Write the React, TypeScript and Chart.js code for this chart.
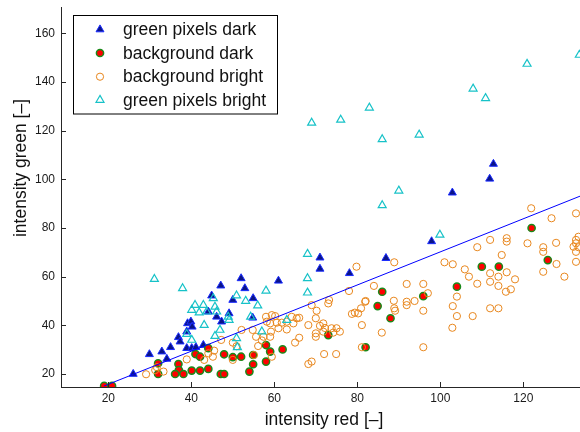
import { useEffect, useRef } from "react";
import { Chart, registerables } from "chart.js";

Chart.register(...registerables);

const seriesNames = ["green pixels dark", "background dark", "background bright", "green pixels bright"];
const xTickValues = [20, 40, 60, 80, 100, 120];
const yTickValues = [20, 40, 60, 80, 100, 120, 140, 160];

// green pixels, dark exposure
const greenDarkX = [26.0, 29.9, 32.9, 34.1, 35.0, 36.9, 37.3, 38.9, 38.9, 39.1, 39.9, 40.2, 40.1, 41.1, 42.9, 44.1, 44.9, 46.1, 47.3, 47.1, 49.1, 50.0, 52.0, 52.9, 54.9, 54.8, 61.0, 71.0, 71.0, 78.1, 86.9, 97.9, 102.9, 111.9, 112.8];
const greenDarkY = [20.0, 28.1, 29.2, 26.2, 31.0, 35.1, 33.3, 37.4, 30.6, 40.8, 41.5, 39.4, 30.6, 31.0, 31.9, 45.6, 52.2, 43.5, 41.5, 56.3, 44.9, 50.4, 59.3, 55.2, 51.1, 43.1, 58.3, 67.8, 63.2, 61.4, 67.6, 74.5, 94.5, 100.2, 106.3];

// background, dark exposure
const bgDarkX = [19.0, 20.9, 32.0, 32.0, 36.9, 37.0, 36.1, 38.1, 40.1, 42.1, 44.1, 47.1, 47.9, 41.0, 42.1, 44.1, 47.9, 50.0, 52.0, 54.0, 54.9, 54.9, 58.0, 59.0, 58.0, 62.0, 73.0, 82.0, 84.9, 88.0, 86.0, 95.9, 104.0, 110.0, 114.1, 125.9, 122.0];
const bgDarkY = [15.1, 15.1, 24.4, 20.0, 24.1, 21.6, 20.0, 20.0, 21.4, 21.4, 22.1, 20.0, 20.0, 28.2, 27.1, 30.6, 28.1, 26.9, 27.1, 21.0, 24.0, 27.8, 31.9, 29.2, 25.1, 30.1, 36.0, 31.0, 47.9, 42.9, 53.8, 52.0, 55.9, 64.1, 64.1, 66.8, 80.0];

// background, bright exposure
const bgBrightX = [
  29.1, 31.3, 33.3, 31.7, 38.9, 43.1, 45.2, 44.1, 45.5, 47.2, 50.0, 50.0, 50.9, 52.1,
  54.8, 55.6, 57.4, 59.0, 57.0, 56.1, 55.1, 59.4, 58.0, 59.4, 60.2, 58.2, 59.0, 60.6, 61.8, 63.0, 64.2, 66.0, 64.6, 63.0, 59.2, 61.0, 65.0, 66.0, 68.2, 69.0, 70.2, 70.0, 71.0, 70.0, 70.0, 69.0, 68.2, 65.4,
  71.8, 72.2, 73.0, 73.2, 73.8, 75.0, 75.8, 74.2, 71.8, 72.0, 74.9, 78.7, 79.4, 80.2, 81.1, 81.9, 81.1, 85.9, 88.8, 88.9, 89.1, 91.9, 91.9, 93.8, 79.8, 88.9, 78.0, 84.0, 82.0, 80.9, 91.9, 95.9, 97.0, 95.9, 95.9,
  101.0, 103.0, 104.0, 103.0, 104.0, 102.9, 107.8, 105.9, 106.9, 108.9, 108.9, 112.0, 112.0, 112.0, 114.0, 114.8, 116.0, 114.0, 115.8, 117.0, 118.0, 112.0, 116.0, 116.0, 121.0, 124.8, 124.8, 127.9, 128.0, 124.8, 129.9, 132.1, 132.7, 121.9, 126.8, 132.7, 133.3, 132.7, 133.3, 132.7, 132.7, 114.0,
];
const bgBrightY = [
  19.9, 21.6, 21.0, 22.8, 26.0, 25.8, 27.1, 28.5, 29.6, 34.0, 25.8, 32.9, 31.4, 38.1,
  38.1, 35.3, 35.3, 35.3, 33.8, 31.5, 27.8, 27.1, 43.5, 44.2, 43.8, 41.5, 40.8, 41.1, 41.1, 41.5, 43.5, 43.1, 40.8, 38.3, 37.4, 38.8, 32.9, 34.9, 40.1, 48.3, 46.0, 42.9, 39.8, 36.7, 35.3, 25.1, 24.1, 42.9,
  40.8, 38.9, 49.0, 50.4, 38.8, 38.8, 37.4, 37.0, 37.4, 28.2, 28.2, 44.7, 45.2, 44.9, 40.1, 49.7, 31.0, 37.0, 50.1, 47.0, 46.0, 49.7, 48.3, 50.0, 64.1, 65.9, 54.1, 56.2, 50.0, 47.0, 57.0, 57.0, 53.2, 46.0, 31.0,
  65.9, 65.1, 51.8, 47.9, 43.8, 39.0, 43.8, 63.0, 60.0, 57.1, 72.1, 61.4, 57.9, 47.0, 47.0, 68.9, 61.8, 56.2, 53.8, 54.8, 58.9, 75.1, 74.4, 75.8, 73.7, 72.1, 70.2, 73.9, 65.2, 62.0, 60.0, 72.3, 66.1, 88.1, 84.0, 86.0, 76.4, 73.7, 72.1, 70.2, 75.1, 60.0,
];

// green pixels, bright exposure
const greenBrightX = [31.1, 37.9, 38.9, 40.1, 40.1, 40.9, 41.9, 42.9, 43.1, 43.7, 45.3, 45.7, 45.7, 46.1, 46.9, 48.9, 49.1, 50.9, 50.9, 51.1, 53.1, 54.3, 56.0, 57.0, 58.0, 63.0, 68.0, 68.0, 68.0, 69.0, 76.0, 82.9, 86.0, 86.0, 90.0, 94.9, 99.9, 107.9, 110.9, 120.9, 133.5];
const greenBrightY = [59.0, 55.2, 36.4, 34.0, 46.3, 48.3, 45.2, 48.3, 40.1, 45.6, 51.1, 47.6, 35.6, 45.6, 38.1, 43.5, 42.2, 52.2, 34.7, 31.0, 50.0, 43.5, 48.1, 37.4, 54.2, 42.2, 59.3, 53.4, 69.3, 123.2, 124.4, 129.4, 116.4, 89.3, 95.3, 118.3, 77.2, 137.2, 133.3, 147.4, 151.1];

// fitted relation, end points
const fitLineX = [19, 134];
const fitLineY = [15.1, 93.3];

const FONT = "'Liberation Sans', Arial, Helvetica, sans-serif";
const AXIS = "#262626";
const DARK_FILL = "#0a1488";
const DARK_EDGE = "#1a2cff";
const RED = "#ff0000";
const RED_EDGE = "#1a8a1a";
const ORANGE = "#e8871e";
const CYAN = "#17c2c8";

const toPoints = (xs: number[], ys: number[]) => xs.map((x, i) => ({ x, y: ys[i] }));

function trianglePath(ctx: CanvasRenderingContext2D, x: number, y: number, r: number) {
  ctx.beginPath();
  ctx.moveTo(x, y - r);
  ctx.lineTo(x + r * Math.sin((2 * Math.PI) / 3), y + r * 0.5);
  ctx.lineTo(x - r * Math.sin((2 * Math.PI) / 3), y + r * 0.5);
  ctx.closePath();
}

const framePlugin = {
  id: "frame",
  afterDraw(chart: any) {
    const { ctx, chartArea: a, scales } = chart;
    ctx.save();

    // inward tick marks
    ctx.strokeStyle = AXIS;
    ctx.lineWidth = 1;
    ctx.beginPath();
    for (const v of xTickValues) {
      const px = Math.round(scales.x.getPixelForValue(v)) + 0.5;
      ctx.moveTo(px, a.bottom);
      ctx.lineTo(px, a.bottom - 5);
    }
    for (const v of yTickValues) {
      const py = Math.round(scales.y.getPixelForValue(v)) + 0.5;
      ctx.moveTo(a.left, py);
      ctx.lineTo(a.left + 5, py);
    }
    ctx.stroke();

    // axis titles
    ctx.fillStyle = "#111";
    ctx.font = `17.5px ${FONT}`;
    ctx.textAlign = "center";
    ctx.textBaseline = "alphabetic";
    ctx.fillText("intensity red [–]", 324, 424.5);
    ctx.save();
    ctx.translate(26, 168);
    ctx.rotate(-Math.PI / 2);
    ctx.fillText("intensity green [–]", 0, 0);
    ctx.restore();

    // legend
    ctx.fillStyle = "#fff";
    ctx.fillRect(73, 15, 204, 99);
    ctx.strokeStyle = "#000";
    ctx.lineWidth = 1;
    ctx.strokeRect(73.5, 15.5, 204, 98.5);

    const mx = 100;
    const rows = [29.5, 53, 76.7, 100];

    trianglePath(ctx, mx, rows[0], 4.6);
    ctx.fillStyle = DARK_FILL;
    ctx.fill();
    ctx.strokeStyle = DARK_EDGE;
    ctx.stroke();

    ctx.beginPath();
    ctx.arc(mx, rows[1], 3.6, 0, Math.PI * 2);
    ctx.fillStyle = RED;
    ctx.fill();
    ctx.lineWidth = 1.5;
    ctx.strokeStyle = RED_EDGE;
    ctx.stroke();

    ctx.beginPath();
    ctx.arc(mx, rows[2], 3.6, 0, Math.PI * 2);
    ctx.lineWidth = 1;
    ctx.strokeStyle = ORANGE;
    ctx.stroke();

    trianglePath(ctx, mx, rows[3], 4.6);
    ctx.strokeStyle = CYAN;
    ctx.lineWidth = 1.2;
    ctx.stroke();

    ctx.fillStyle = "#111";
    ctx.textAlign = "left";
    ctx.textBaseline = "alphabetic";
    seriesNames.forEach((name, i) => ctx.fillText(name, 123, rows[i] + 5.5));

    ctx.restore();
  },
};

export default function App() {
  const canvasRef = useRef<HTMLCanvasElement | null>(null);

  useEffect(() => {
    const canvas = canvasRef.current;
    if (!canvas) return;
    const chart = new Chart(canvas, {
      type: "scatter",
      data: {
        datasets: [
          {
            label: "fit",
            data: toPoints(fitLineX, fitLineY),
            showLine: true,
            borderColor: "#0000ff",
            borderWidth: 1,
            pointRadius: 0,
            fill: false,
          },
          {
            label: seriesNames[3],
            data: toPoints(greenBrightX, greenBrightY),
            pointStyle: "triangle",
            pointRadius: 4.6,
            backgroundColor: "rgba(0,0,0,0)",
            borderColor: CYAN,
            borderWidth: 1.2,
          },
          {
            label: seriesNames[2],
            data: toPoints(bgBrightX, bgBrightY),
            pointStyle: "circle",
            pointRadius: 3.6,
            backgroundColor: "rgba(0,0,0,0)",
            borderColor: ORANGE,
            borderWidth: 1,
          },
          {
            label: seriesNames[1],
            data: toPoints(bgDarkX, bgDarkY),
            pointStyle: "circle",
            pointRadius: 3.6,
            backgroundColor: RED,
            borderColor: RED_EDGE,
            borderWidth: 1.5,
          },
          {
            label: seriesNames[0],
            data: toPoints(greenDarkX, greenDarkY),
            pointStyle: "triangle",
            pointRadius: 4.6,
            backgroundColor: DARK_FILL,
            borderColor: DARK_EDGE,
            borderWidth: 1,
          },
        ],
      },
      options: {
        responsive: false,
        animation: false,
        devicePixelRatio: 1,
        layout: { autoPadding: false, padding: { top: 7, right: 0, bottom: 0, left: 0 } },
        plugins: {
          legend: { display: false },
          tooltip: { enabled: false },
        },
        scales: {
          x: {
            type: "linear",
            min: 8.6,
            max: 133.66,
            afterBuildTicks: (s: any) => {
              s.ticks = xTickValues.map((value) => ({ value }));
            },
            afterFit: (s: any) => {
              s.height = 45;
              s.paddingLeft = 0;
              s.paddingRight = 0;
            },
            grid: { display: false, drawTicks: false },
            border: { display: true, color: AXIS, width: 1 },
            ticks: {
              padding: 4,
              color: "#1a1a1a",
              maxRotation: 0,
              autoSkip: false,
              font: { family: FONT, size: 12 },
            },
          },
          y: {
            type: "linear",
            min: 14.66,
            max: 170.8,
            afterBuildTicks: (s: any) => {
              s.ticks = yTickValues.map((value) => ({ value }));
            },
            afterFit: (s: any) => {
              s.width = 61;
              s.paddingTop = 0;
              s.paddingBottom = 0;
            },
            grid: { display: false, drawTicks: false },
            border: { display: true, color: AXIS, width: 1 },
            ticks: {
              padding: 6,
              color: "#1a1a1a",
              autoSkip: false,
              font: { family: FONT, size: 12 },
            },
          },
        },
      },
      plugins: [framePlugin],
    } as any);
    return () => chart.destroy();
  }, []);

  return (
    <div style={{ position: "fixed", left: 0, top: 0, width: 580, height: 432, overflow: "hidden", background: "#fff" }}>
      <canvas ref={canvasRef} width={580} height={432} style={{ display: "block" }} />
    </div>
  );
}
